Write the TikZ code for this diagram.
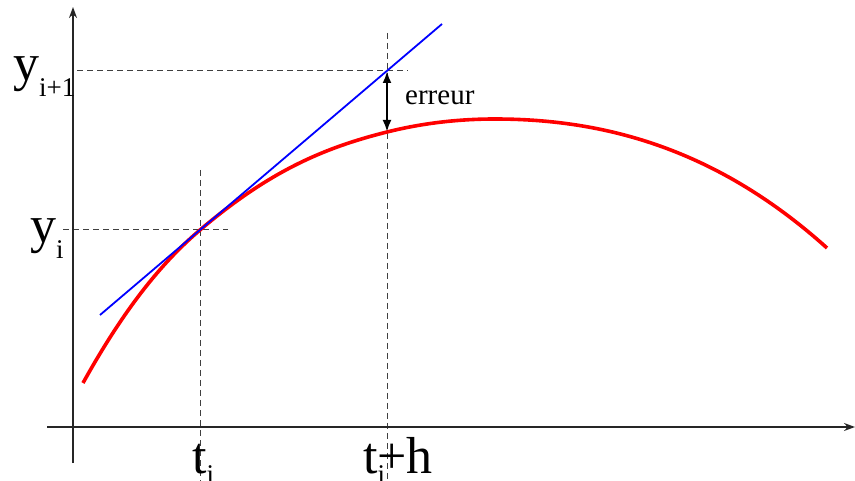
\documentclass[tikz,border=0pt]{standalone}
\usepackage{fontspec}
\setmainfont{Liberation Serif}
\usetikzlibrary{arrows.meta}
\newcommand{\sublbl}[2][-16pt]{\raisebox{#1}{\fontsize{27}{27}\selectfont #2}}
\begin{document}
\begin{tikzpicture}[x=1pt,y=-1pt,
	guide/.style={dash pattern=on 6pt off 4pt, line width=1pt, black!75},
	axis/.style={line width=1.4pt, black!85, -{Stealth[length=11pt,width=8pt]}},
	biglbl/.style={font=\fontsize{52}{52}\selectfont, inner sep=0pt, anchor=base west}]
	\useasboundingbox (0,0) rectangle (855,481);
	\coordinate (pi) at (200,230);
	\coordinate (pn) at (387,71);
	\coordinate (qn) at (387,132);
	\coordinate (top) at (495,119);
	
	\draw[guide] (200,170)--(200,481);
	\draw[guide] (63,230)--(228,230);
	\draw[guide] (387,33)--(387,481);
	\draw[guide] (77,71)--(408,71);
	
	\draw[axis] (73,463)--(73,7);
	\draw[axis] (47,427)--(855,427);
	
	\draw[red, line width=3.6pt] (83,383) .. controls (123,311) and (160,264) .. (pi)
		.. controls (270,170.5) and (325,147.5) .. (qn)
		.. controls (423,123) and (459,119) .. (top)
		.. controls (605,119) and (717,149) .. (827,248);
	\draw[blue, line width=1.8pt] (100,315)--(442,24);
	
	\draw[line width=2.4pt, {Latex[length=12pt,width=9pt]}-{Latex[length=12pt,width=9pt]}] (pn)--(qn);
	
	\node[biglbl] (ynext) at (13,81) {y\sublbl{i+1}};
	\node[biglbl] (ycur) at (30,243) {y\sublbl{i}};
	\node[biglbl] (tcur) at (192,473) {t\sublbl[-10pt]{i}};
	\node[biglbl] (tnext) at (363,473) {t\sublbl[-10pt]{i}\kern-8pt+h};
	\node[font=\fontsize{29}{29}\selectfont, inner sep=0pt, anchor=base west] (err) at (405,105) {erreur};
\end{tikzpicture}
\end{document}
